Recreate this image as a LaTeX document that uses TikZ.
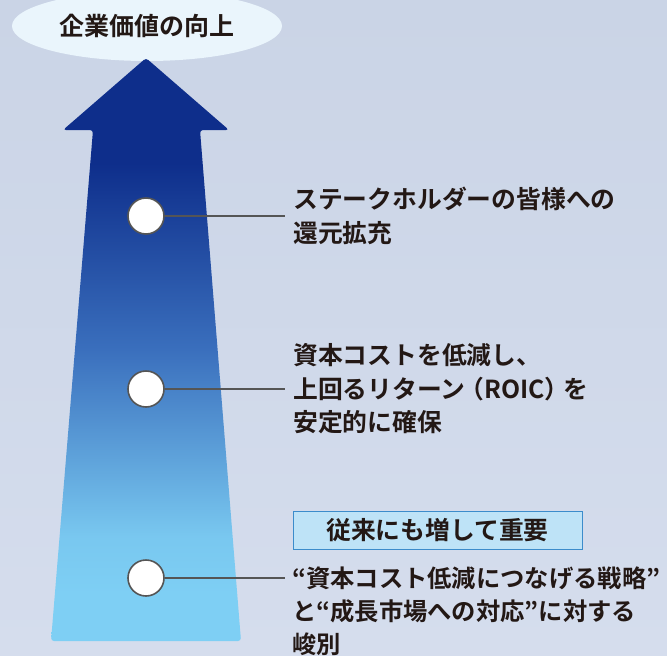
\documentclass[tikz,border=0pt]{standalone}
\usepackage{fontspec}
\setmainfont{Noto Sans CJK JP}[BoldFont={Noto Sans CJK JP Bold}]
\usetikzlibrary{shapes.geometric}

\definecolor{bgtop}{HTML}{CAD4E6}
\definecolor{bgbot}{HTML}{D5DDED}
\definecolor{navy}{HTML}{0E2E8B}
\definecolor{midblue}{HTML}{3A6FBD}
\definecolor{skyblue}{HTML}{7ECFF4}
\definecolor{ink}{HTML}{231815}
\definecolor{linegray}{HTML}{555555}
\definecolor{boxfill}{HTML}{BEE3F7}
\definecolor{boxline}{HTML}{3C8CCB}
\definecolor{cloud}{HTML}{EAF5FC}

\pgfdeclareverticalshading{arrowshade}{100bp}{color(0bp)=(skyblue); color(29bp)=(skyblue);
  color(34bp)=(skyblue!92!midblue); color(50bp)=(midblue); color(66bp)=(navy); color(100bp)=(navy)}

\tikzset{
  dot/.style={circle, fill=white, draw=linegray, line width=1.6pt, minimum size=36pt, inner sep=0pt},
  link/.style={draw=linegray, line width=1.6pt},
  label/.style={text=ink, font=\fontsize{24.8}{33.5}\selectfont\bfseries, align=left,
    anchor=west, inner xsep=8pt, inner ysep=0pt},
  tagbox/.style={draw=boxline, line width=1pt, fill=boxfill, text=ink,
    font=\fontsize{24.8}{30}\selectfont\bfseries, minimum width=289pt, minimum height=38pt, inner sep=0pt}
}

\begin{document}
\begin{tikzpicture}[x=1pt,y=-1pt]
  \useasboundingbox (0,0) rectangle (667,656);
  \shade[top color=bgtop, bottom color=bgbot] (0,0) rectangle (667,656);

  \node[ellipse, fill=cloud, minimum width=270pt, minimum height=70pt, inner sep=0pt,
    text=ink, font=\fontsize{25}{30}\selectfont\bfseries] (goal) at (147,26) {企業価値の向上};

  \shade[shading=arrowshade, rounded corners=3pt]
    (146,58) -- (229,130) -- (200,130) -- (241,641) -- (51,641) -- (93,130) -- (63,130) -- cycle;

  \foreach \i/\y in {1/216,2/389,3/578}
  {
    \node[dot] (c\i) at (146,\y) {};
  }

  \node[label] (t1) at (285,216) {ステークホルダーの皆様への\\還元拡充};
  \node[label] (t2) at (285,389) {資本コストを低減し、\\上回るリターン\kern-6pt（ROIC）\kern-6pt を\\安定的に確保};
  \node[tagbox] (tag) at (437.5,530) {従来にも増して重要};
  \node[label, inner xsep=0pt, font=\fontsize{24.3}{33}\selectfont\bfseries] (t3) at (292,611)
    {“資本コスト低減につなげる戦略”\\と“成長市場への対応”に対する\\峻別};
  \coordinate (e3) at (285,578);

  \draw[link] (c1) -- (t1.west);
  \draw[link] (c2) -- (t2.west);
  \draw[link] (c3) -- (e3);

\end{tikzpicture}
\end{document}
